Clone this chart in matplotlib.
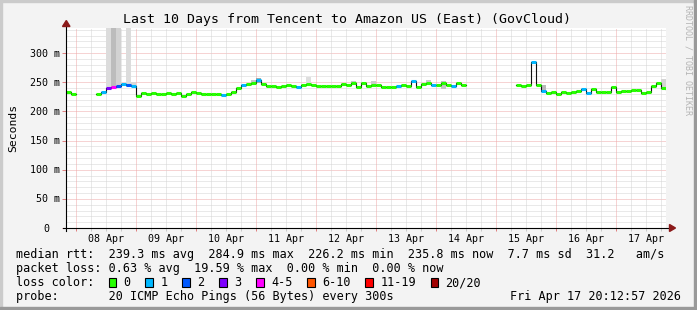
import numpy as np
import matplotlib
matplotlib.use("Agg")
import matplotlib.pyplot as plt
import matplotlib.transforms as mtransforms
from matplotlib.patches import Rectangle, Polygon
from matplotlib.lines import Line2D

W, H = 697, 310
MONO = "DejaVu Sans Mono"
nan = np.nan

# median rtt in ms, one value every 2 h from Apr 07 20:00 (hour -4 rel. Apr 08 00:00)
median = [233, 229, nan, nan, nan, nan, 229, 233, 240, 242,
          244, 247, 245, 244, 227, 231, 230, 232, 230, 229,
          231, 229, 231, 227, 230, 233, 231, 229, 230, 229,
          230, 228, 230, 234, 240, 245, 247, 249, 254, 247,
          244, 243, 242, 244, 245, 244, 241, 246, 247, 245,
          244, 244, 244, 243, 243, 247, 245, 248, 242, 249,
          243, 246, 245, 242, 242, 242, 243, 246, 244, 252,
          242, 247, 248, 246, 246, 249, 246, 243, 248, 246,
          nan, nan, nan, nan, nan, nan, nan, nan, nan, nan,
          245, 243, 245, 285, 245, 235, 232, 234, 230, 234,
          231, 234, 235, 238, 232, 238, 233, 233, 234, 241,
          234, 235, 235, 236, 236, 231, 234, 244, 248, 240, 236]

# samples that had packet loss (index into median, loss colour bin)
loss_idx = [7, 8, 9, 10, 11, 12, 13, 31, 35, 38, 46, 66, 69, 73, 77, 93, 95, 103, 104]
loss_bin = [1, 3, 4, 2, 1, 2, 1, 1, 1, 1, 1, 1, 1, 1, 1, 1, 1, 1, 1]

# smoke (spread of the 20 pings) where it shows outside the median line
smoke_idx = [8, 9, 10, 12, 13, 37, 38, 48, 57, 59, 61, 72, 75, 95, 119]
smoke_lo = [238, 238, 240, 242, 243, 246, 248, 245, 246, 245, 244, 246, 238, 235, 240]
smoke_hi = [400, 400, 400, 400, 250, 253, 257, 259, 252, 251, 252, 253, 252, 245, 255]
smoke_tone = ['#dcdcdc', '#bcbcbc', '#d2d2d2', '#dcdcdc', '#d8d8d8', '#c8c8c8', '#a8a8a8',
              '#dedede', '#c8c8c8', '#d0d0d0', '#cccccc', '#cccccc', '#c4c4c4', '#b8b8b8', '#d4d4d4']

loss_labels = ["0", "1", "2", "3", "4-5", "6-10", "11-19", "20/20"]
loss_colors = ['#26ff00', '#00b8ff', '#0059ff', '#7e00ff', '#ff00ff', '#ff5500', '#ff0000', '#a10000']

day_labels = ["08 Apr", "09 Apr", "10 Apr", "11 Apr", "12 Apr",
              "13 Apr", "14 Apr", "15 Apr", "16 Apr", "17 Apr"]

rtt_avg, rtt_max, rtt_min, rtt_now, rtt_sd, rtt_ams = 239.3, 284.9, 226.2, 235.8, 7.7, 31.2
loss_avg, loss_max, loss_min, loss_now = 0.63, 19.59, 0.00, 0.00


def fx(x):
    return x / W


def fy(y):
    return 1 - y / H


fig = plt.figure(figsize=(W / 100, H / 100), dpi=100, facecolor='#f3f3f3')

# rrdtool style 3d frame
fig.patches.append(Rectangle((0, fy(2)), 1, 2 / H, transform=fig.transFigure, color='#cbcbcb', zorder=0))
fig.patches.append(Rectangle((0, 0), 2 / W, 1, transform=fig.transFigure, color='#cbcbcb', zorder=0))
fig.patches.append(Rectangle((0, 0), 1, 3 / H, transform=fig.transFigure, color='#999999', zorder=1))
fig.patches.append(Rectangle((fx(694), 0), 3 / W, 1, transform=fig.transFigure, color='#999999', zorder=1))

ax = fig.add_axes([fx(66), fy(228), 600 / W, 200 / H])
ax.set_facecolor('white')
ax.set_xlim(-4, 236)
ax.set_ylim(0, 343)
for s in ax.spines.values():
    s.set_visible(False)

# dotted grid: minor grey, major pink
dot = (0, (1, 1))
for v in np.arange(10, 343, 10):
    major = v % 50 == 0
    ax.axhline(v, color='#eea8a8' if major else '#d4d4d4', lw=0.72, ls=dot, zorder=1)
for h in np.arange(0, 236, 6):
    major = h % 24 == 0
    ax.axvline(h, color='#eea8a8' if major else '#d4d4d4', lw=0.72, ls=dot, zorder=1)

ax.set_xticks(np.arange(0, 236, 24))
ax.set_xticks(np.arange(0, 236, 6), minor=True)
ax.set_yticks(np.arange(0, 301, 50))
ax.tick_params(axis='both', which='both', labelbottom=False, labelleft=False, width=0.72)
ax.tick_params(axis='x', which='major', length=2, color='#e08080')
ax.tick_params(axis='x', which='minor', length=2, color='#c8c8c8')
ax.tick_params(axis='y', which='major', length=3, color='#e08080')

hours = -4 + 2 * np.arange(len(median))
med = np.array(median, dtype=float)

# smoke
ax.bar(hours[smoke_idx], np.array(smoke_hi) - np.array(smoke_lo), bottom=smoke_lo,
       width=2, align='edge', color=smoke_tone, linewidth=0, zorder=2)

# median: dark step line, then loss coloured segments on top
ax.step(hours, med, where='post', color='#101010', lw=0.8, zorder=3)
bins = np.zeros(len(med), dtype=int)
bins[loss_idx] = loss_bin
ok = ~np.isnan(med)
ax.hlines(med[ok], hours[ok], hours[ok] + 2, colors=[loss_colors[b] for b in bins[ok]],
          lw=2.2, zorder=4)

# axes with arrows
fig.add_artist(Line2D([fx(66), fx(66)], [fy(231), fy(24)], color='black', lw=0.8))
fig.add_artist(Line2D([fx(63), fx(671)], [fy(228), fy(228)], color='black', lw=0.8))
fig.patches.append(Polygon([(fx(62.5), fy(26.5)), (fx(70), fy(26.5)), (fx(66.3), fy(20.5))],
                           transform=fig.transFigure, color='#8b1a1a', zorder=5))
fig.patches.append(Polygon([(fx(669.5), fy(224.5)), (fx(669.5), fy(231.5)), (fx(675.5), fy(228))],
                           transform=fig.transFigure, color='#8b1a1a', zorder=5))

# tick labels
blend = mtransforms.blended_transform_factory(ax.transData, fig.transFigure)
for k, lab in enumerate(day_labels):
    fig.text(12 + 24 * k, fy(242), lab, transform=blend, ha='center', va='baseline',
             fontsize=7.2, family=MONO)
for v in range(0, 301, 50):
    y = 228 - v * 200 / 343
    if v == 0:
        fig.text(fx(49), fy(y + 3.6), "0", ha='right', va='baseline', fontsize=7.2, family=MONO)
    else:
        fig.text(fx(59.5), fy(y + 3.6), "%d m" % v, ha='right', va='baseline', fontsize=7.2, family=MONO)

fig.text(fx(13.5), fy(128), "Seconds", rotation=90, ha='center', va='center', fontsize=8.2, family=MONO)
fig.text(fx(347), fy(23), "Last 10 Days from Tencent to Amazon US (East) (GovCloud)",
         ha='center', va='baseline', fontsize=9.5, family=MONO)
fig.text(fx(688), fy(60), "RRDTOOL / TOBI OETIKER", rotation=270, ha='center', va='center',
         fontsize=6, family=MONO, color='#b4b4b4')

# legend
fs = 8.5
cw = 7.1
line1 = ("median rtt:  %.1f ms avg  %.1f ms max  %.1f ms min  %.1f ms now  %.1f ms sd  %.1f   am/s"
         % (rtt_avg, rtt_max, rtt_min, rtt_now, rtt_sd, rtt_ams))
line2 = ("packet loss: %.2f %% avg  %.2f %% max  %.2f %% min  %.2f %% now"
         % (loss_avg, loss_max, loss_min, loss_now))
fig.text(fx(16), fy(258), line1, va='baseline', fontsize=fs, family=MONO)
fig.text(fx(16), fy(272), line2, va='baseline', fontsize=fs, family=MONO)
fig.text(fx(16), fy(286), "loss color:", va='baseline', fontsize=fs, family=MONO)
bx = 108.5
for lab, col in zip(loss_labels, loss_colors):
    fig.patches.append(Rectangle((fx(bx), fy(287)), 7.5 / W, 9.5 / H, transform=fig.transFigure,
                                 facecolor=col, edgecolor='black', lw=0.8, zorder=5))
    fig.text(fx(bx + 14.8), fy(286), lab, va='baseline', fontsize=fs, family=MONO)
    bx += 14.8 + cw * len(lab) + 15.0
fig.text(fx(16), fy(300), "probe:       20 ICMP Echo Pings (56 Bytes) every 300s",
         va='baseline', fontsize=fs, family=MONO)
fig.text(fx(681), fy(300), "Fri Apr 17 20:12:57 2026", ha='right', va='baseline',
         fontsize=fs, family=MONO)

fig.savefig("out.png", dpi=100, facecolor=fig.get_facecolor())
